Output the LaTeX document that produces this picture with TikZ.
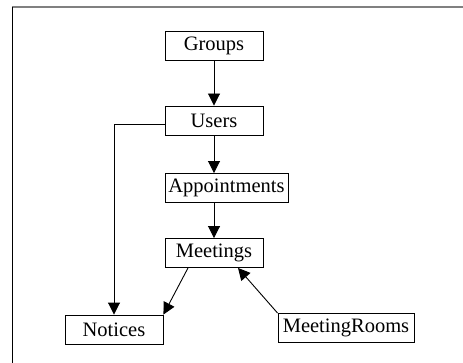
\documentclass[tikz,border=0pt]{standalone}
\usepackage{fontspec}
\setmainfont{Liberation Serif}
\usepackage{tikz}
\usetikzlibrary{positioning,arrows.meta}

\begin{document}
\begin{tikzpicture}[x=1pt,y=1pt,
  table/.style={draw, line width=0.9pt, minimum height=29pt, inner sep=2pt, font=\fontsize{20.5}{21}\selectfont},
  link/.style={line width=0.9pt, -{Triangle[length=12pt,width=12pt]}}]
\useasboundingbox (0,0) rectangle (463,-363);
% frame
\draw[gray, line width=1.6pt] (12,-7) -- (463,-7);
\draw[line width=1pt] (12,-7) -- (12,-363);

% Tables
\node[table, minimum width=98pt] (G) at (214,-45.5) {Groups};
\node[table, minimum width=98pt] (U) at (214,-120.5) {Users};
\node[table, minimum width=123pt] (A) at (226.5,-188) {Appointments};
\node[table, minimum width=98pt] (M) at (214,-253) {Meetings};
\node[table, minimum width=98pt] (N) at (114,-329.5) {Notices};
\node[table, minimum width=136pt] (R) at (346,-328) {MeetingRooms};

% Links
\draw [link] (G.south) -- (U.north);
\draw [link] (U.south) -- (U.south |- A.north);
\draw [link] (A.south -| M.north) -- (M.north);
\draw [link] ([yshift=-3.5pt]U.west) -| (N.north);
\draw [link] ([xshift=-26pt]M.south) -- (N.north east);
\draw [link] (R.north west) -- ([xshift=24pt]M.south);

\end{tikzpicture}
\end{document}
